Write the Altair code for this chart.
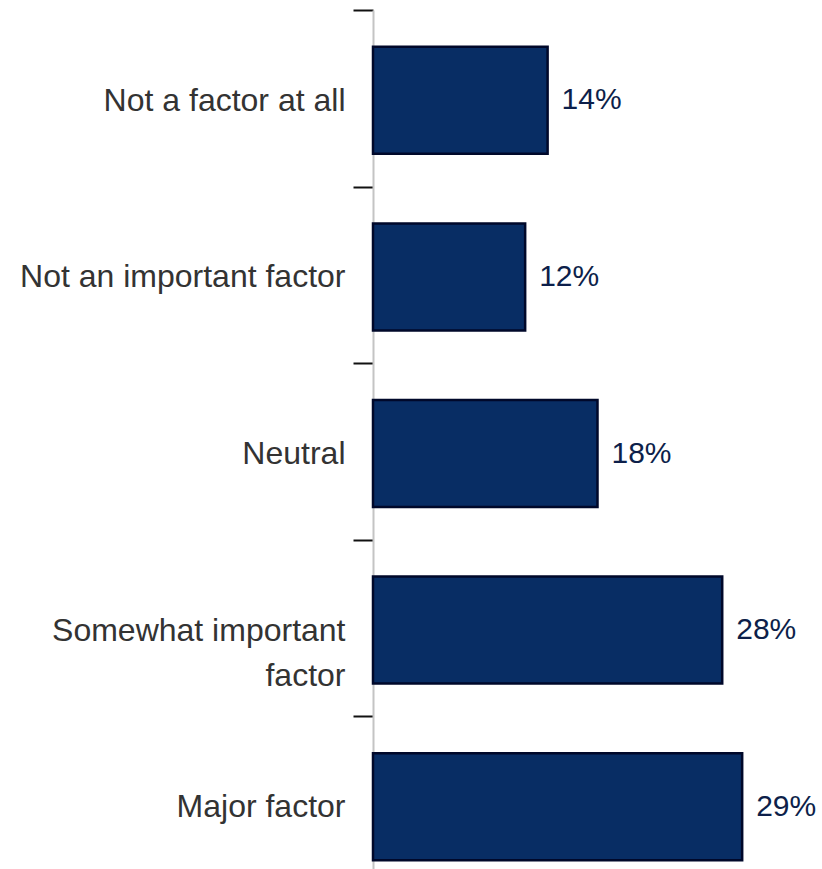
import altair as alt
import pandas as pd

categories = [
    "Not a factor at all",
    "Not an important factor",
    "Neutral",
    "Somewhat important|factor",
    "Major factor",
]
values = [14, 12.2, 18, 28, 29.6]
value_labels = ["14%", "12%", "18%", "28%", "29%"]

df = pd.DataFrame({"cat": categories, "val": values, "lab": value_labels})

FONT = "Liberation Sans"

y_enc = alt.Y(
    "cat:N",
    sort=categories,
    scale=alt.Scale(range=[0, 883], paddingInner=0, paddingOuter=0),
    axis=alt.Axis(
        title=None,
        tickBand="extent",
        tickSize=20,
        tickColor="#111111",
        tickWidth=2,
        domainColor="#c4c4c4",
        domainWidth=2,
        labelFont=FONT,
        labelFontSize=32,
        labelColor="#333333",
        labelPadding=8,
        labelLineHeight=45,
        labelLimit=400,
        labelOffset=2,
        labelExpr="isValid(datum.value) ? split(datum.value, '|') : ''",
    ),
)
x_enc = alt.X("val:Q", scale=alt.Scale(domain=[0, 36], nice=False), axis=None)

base = alt.Chart(df).encode(y=y_enc, x=x_enc)

bars = base.mark_bar(
    size=107, yOffset=2, color="#082d64", stroke="#00082a", strokeWidth=2.5
)
texts = base.mark_text(
    align="left", baseline="middle", dx=14, dy=2, font=FONT, fontSize=30,
    color="#0d1f4a"
).encode(text="lab:N")

chart = (
    alt.layer(bars, texts)
    .properties(
        width=449,
        height=859,
        autosize=alt.AutoSizeParams(type="none"),
        padding={"left": 373, "top": 10, "right": 0, "bottom": 0},
        background="white",
    )
    .configure_view(stroke=None)
)

chart.save("out.html", embed_options={"renderer": "svg", "actions": False})
